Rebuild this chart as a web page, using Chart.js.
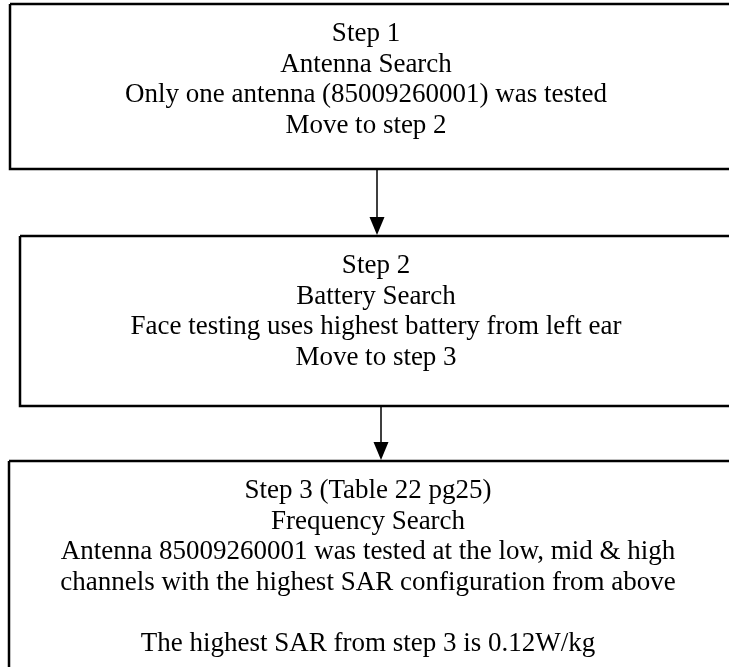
<!DOCTYPE html>
<html>
<head>
<meta charset="utf-8">
<script src="https://cdn.jsdelivr.net/npm/chart.js@4.4.1/dist/chart.umd.min.js"></script>
<style>
  html, body { margin: 0; padding: 0; background: #fff; }
  #wrap { width: 729px; height: 667px; position: relative; }
</style>
</head>
<body>
<div id="wrap"><canvas id="flowChart"></canvas></div>
<script>
// flow steps: box extents in page units (x 0..729, y 0..667 from top)
const boxLeft = [10, 20, 9];
const boxRight = [740, 740, 740];
const boxTop = [4, 236, 461];
const boxBottom = [169, 406, 690];
const arrowX = [377, 381];
const textCenterX = [366, 376, 368];

const stepLines = [
    ['Step 1', 'Antenna Search', 'Only one antenna (85009260001) was tested', 'Move to step 2'],
    ['Step 2', 'Battery Search', 'Face testing uses highest battery from left ear', 'Move to step 3'],
    ['Step 3 (Table 22 pg25)', 'Frequency Search',
        'Antenna 85009260001 was tested at the low, mid & high',
        'channels with the highest SAR configuration from above',
        '', 'The highest SAR from step 3 is 0.12W/kg']
];

const FONT = '27px "Liberation Serif", "Times New Roman", serif';

const boxSets = boxLeft.map((l, i) => ({
    data: [
        { x: l, y: boxTop[i] },
        { x: boxRight[i], y: boxTop[i] },
        { x: boxRight[i], y: boxBottom[i] },
        { x: l, y: boxBottom[i] },
        { x: l, y: boxTop[i] }
    ],
    borderColor: '#000',
    borderWidth: 2.5,
    pointRadius: 0,
    showLine: true,
    fill: false,
    tension: 0
}));

// arrow shafts run from bottom of one box to the top of the next
const arrowSets = arrowX.map((x, i) => ({
    data: [{ x, y: boxBottom[i] }, { x, y: boxTop[i + 1] - 16 }],
    borderColor: '#000',
    borderWidth: 1.5,
    pointRadius: 0,
    showLine: true,
    fill: false
}));

const flowPlugin = {
    id: 'flowText',
    afterDatasetsDraw(chart) {
        const { ctx, scales: { x, y } } = chart;
        ctx.save();

        // arrow heads
        ctx.fillStyle = '#000';
        arrowX.forEach((ax, i) => {
            const px = x.getPixelForValue(ax);
            const tip = y.getPixelForValue(boxTop[i + 1]);
            ctx.beginPath();
            ctx.moveTo(px - 7.5, tip - 19);
            ctx.lineTo(px + 7.5, tip - 19);
            ctx.lineTo(px, tip - 1);
            ctx.closePath();
            ctx.fill();
        });

        // step text
        ctx.font = FONT;
        ctx.textAlign = 'center';
        ctx.textBaseline = 'alphabetic';
        stepLines.forEach((lines, i) => {
            const cx = x.getPixelForValue(textCenterX[i]);
            lines.forEach((t, j) => {
                if (!t) return;
                const py = y.getPixelForValue(boxTop[i] + 37 + j * 30.5);
                ctx.fillText(t, cx, py);
            });
        });
        ctx.restore();
    }
};

new Chart(document.getElementById('flowChart'), {
    type: 'scatter',
    data: { datasets: [...boxSets, ...arrowSets] },
    options: {
        responsive: true,
        maintainAspectRatio: false,
        animation: false,
        layout: { padding: 0 },
        plugins: {
            legend: { display: false },
            tooltip: { enabled: false }
        },
        scales: {
            x: { type: 'linear', min: 0, max: 729, display: false },
            y: { type: 'linear', min: 0, max: 667, reverse: true, display: false }
        }
    },
    plugins: [flowPlugin]
});
</script>
</body>
</html>
